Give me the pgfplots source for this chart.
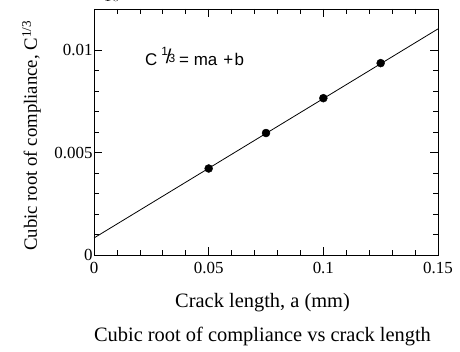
\documentclass[border=0pt]{standalone}
\usepackage{pgfplots}
\pgfplotsset{compat=1.18}
\usepackage{fontspec}
\setmainfont{Liberation Serif}
\newfontfamily\arialfont{Liberation Sans}
\begin{document}
\begin{tikzpicture}
\path[use as bounding box] (0,0) rectangle (460bp,352bp);
\begin{axis}[
  at={(94bp,97bp)}, anchor=south west,
  width=344bp, height=246bp, scale only axis,
  xmin=0, xmax=0.15, ymin=0, ymax=0.012,
  xtick={0,0.05,0.1,0.15}, xticklabels={0,0.05,0.1,0.15},
  ytick={0,0.005,0.01}, yticklabels={0,0.005,0.01},
  minor x tick num=4, minor y tick num=4,
  tick align=inside,
  major tick length=8bp, minor tick length=5bp,
  axis line style={line width=0.8bp},
  every tick/.style={black, line width=0.7bp},
  tick label style={font=\fontsize{17}{20}\selectfont},
  xticklabel style={anchor=base, yshift=-18bp},
  yticklabel style={xshift=2bp},
  xlabel={Crack length, a (mm)},
  xlabel style={at={(axis description cs:0.49,-0.2154)}, anchor=base, font=\fontsize{20.5}{24}\selectfont},
  ylabel={Cubic root of compliance, C\textsuperscript{1/3}},
  ylabel style={at={(axis description cs:-0.1657,0.485)}, anchor=base, font=\fontsize{18.8}{22}\selectfont},
  title={Cubic root of compliance vs crack length},
  title style={at={(axis description cs:0.4898,-0.374)}, anchor=base, font=\fontsize{20.5}{24}\selectfont},
  clip=false,
]
\addplot[black, line width=0.8bp, no marks] coordinates {(0,0.00083) (0.15,0.01103)};
\addplot[only marks, mark=*, mark size=4bp, black] coordinates {
  (0.05,0.00422) (0.075,0.00595) (0.1,0.00765) (0.125,0.00936)};
\node[anchor=base west, inner sep=0pt, font=\arialfont\fontsize{17}{20}\selectfont] at (axis cs:0.0222,0.00922)
  {C\kern4bp\raisebox{10.5bp}{\fontsize{12}{12}\selectfont 1}\kern-2bp\raisebox{2bp}{\fontsize{20}{20}\selectfont /}\kern-3bp\raisebox{3bp}{\fontsize{12}{12}\selectfont 3}\kern4bp= ma\kern6bp+\kern1.5bp b};
\end{axis}
\end{tikzpicture}
\end{document}
